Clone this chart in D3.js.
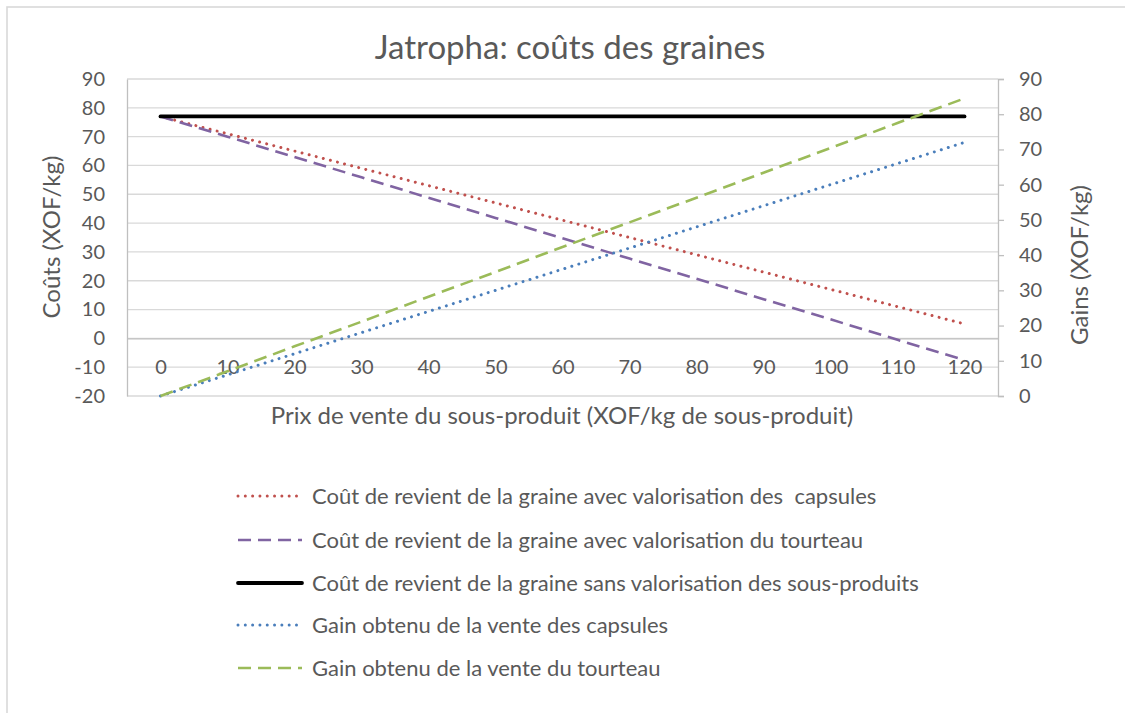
<!DOCTYPE html>
<html>
<head>
<meta charset="utf-8">
<script src="https://cdn.jsdelivr.net/npm/d3@7"></script>
<style>
  html, body { margin: 0; padding: 0; background: #fff; }
  svg text { font-family: Lato, "Open Sans", sans-serif; fill: #595959; }
</style>
</head>
<body>
<svg id="chart" width="1125" height="713"></svg>
<script>
// Sale price of the by-product (XOF/kg of by-product)
const prices = [0, 10, 20, 30, 40, 50, 60, 70, 80, 90, 100, 110, 120];

// Costs (left axis, XOF/kg)
const costCapsules = [77, 71, 65, 59, 53, 47, 41, 35, 29, 23, 17, 11, 5];
const costTourteau = [77, 70.0, 62.9, 55.9, 48.8, 41.8, 34.7, 27.7, 20.7, 13.6, 6.6, -0.5, -7.5];
const costNone = [77, 77, 77, 77, 77, 77, 77, 77, 77, 77, 77, 77, 77];

// Gains (right axis, XOF/kg)
const gainCapsules = [0, 6, 12, 18, 24, 30, 36, 42, 48, 54, 60, 66, 72];
const gainTourteau = [0, 7.0, 14.1, 21.1, 28.2, 35.2, 42.3, 49.3, 56.3, 63.4, 70.4, 77.5, 84.5];

const leftTicks = [-20, -10, 0, 10, 20, 30, 40, 50, 60, 70, 80, 90];
const rightTicks = [0, 10, 20, 30, 40, 50, 60, 70, 80, 90];

const titleText = "Jatropha: coûts des graines";
const xTitle = "Prix de vente du sous-produit (XOF/kg de sous-produit)";
const yLeftTitle = "Coûts (XOF/kg)";
const yRightTitle = "Gains (XOF/kg)";

const series = [
  { name: "Coût de revient de la graine avec valorisation des  capsules", values: costCapsules, axis: "left", color: "#c0504d", style: "dot" },
  { name: "Coût de revient de la graine avec valorisation du tourteau", values: costTourteau, axis: "left", color: "#8064a2", style: "dash" },
  { name: "Coût de revient de la graine sans valorisation des sous-produits", values: costNone, axis: "left", color: "#000000", style: "solid" },
  { name: "Gain obtenu de la vente des capsules", values: gainCapsules, axis: "right", color: "#4a7ebb", style: "dot" },
  { name: "Gain obtenu de la vente du tourteau", values: gainTourteau, axis: "right", color: "#9bbb59", style: "dash" }
];

const svg = d3.select("#chart");
const plot = { left: 127, right: 998, top: 79, bottom: 396 };

const x = d3.scalePoint().domain(prices).range([plot.left, plot.right]).padding(0.5);
const yL = d3.scaleLinear().domain([-20, 90]).range([plot.bottom, plot.top]);
const yR = d3.scaleLinear().domain([0, 90]).range([plot.bottom, plot.top]);
const fmt = d => String(d);

// Outer chart border
svg.append("rect")
  .attr("x", 7).attr("y", 7).attr("width", 1125).attr("height", 713)
  .attr("fill", "none").attr("stroke", "#d9d9d9").attr("stroke-width", 1.6);

// Title
svg.append("text")
  .attr("x", 570).attr("y", 59)
  .attr("text-anchor", "middle")
  .style("font-size", "33px")
  .text(titleText);

// Horizontal gridlines
svg.append("g").selectAll("line")
  .data(leftTicks)
  .join("line")
  .attr("x1", plot.left).attr("x2", plot.right)
  .attr("y1", d => yL(d)).attr("y2", d => yL(d))
  .attr("stroke", "#d9d9d9").attr("stroke-width", 1.3);

function styleAxis(g) {
  g.select(".domain").attr("stroke", "#bfbfbf").attr("stroke-width", 1.3);
  g.selectAll(".tick line").attr("stroke", "#bfbfbf").attr("stroke-width", 1.3);
  g.selectAll("text").style("font-size", "20px").attr("fill", "#595959");
  g.attr("font-family", null).attr("font-size", null);
}

// Left axis (costs)
const gL = svg.append("g").attr("transform", `translate(${plot.left},0)`)
  .call(d3.axisLeft(yL).tickValues(leftTicks).tickFormat(fmt).tickSize(0).tickPadding(22));
styleAxis(gL);

// Right axis (gains)
const gR = svg.append("g").attr("transform", `translate(${plot.right},0)`)
  .call(d3.axisRight(yR).tickValues(rightTicks).tickFormat(fmt).tickSize(6).tickPadding(15));
styleAxis(gR);

// Category axis crossing at zero on the cost axis
const gX = svg.append("g").attr("transform", `translate(0,${yL(0)})`)
  .call(d3.axisBottom(x).tickFormat(fmt).tickSize(0).tickPadding(21).tickSizeOuter(0));
styleAxis(gX);

// Axis titles
svg.append("text")
  .attr("x", 562).attr("y", 424)
  .attr("text-anchor", "middle")
  .style("font-size", "24px")
  .text(xTitle);

svg.append("text")
  .attr("transform", "translate(60,237) rotate(-90)")
  .attr("text-anchor", "middle")
  .style("font-size", "24px")
  .text(yLeftTitle);

svg.append("text")
  .attr("transform", "translate(1088,265) rotate(-90)")
  .attr("text-anchor", "middle")
  .style("font-size", "24px")
  .text(yRightTitle);

function applyStyle(sel, s) {
  sel.attr("stroke", s.color).attr("fill", "none");
  if (s.style === "dot") {
    sel.attr("stroke-width", 3).attr("stroke-linecap", "round").attr("stroke-dasharray", "0.01 7.3");
  } else if (s.style === "dash") {
    sel.attr("stroke-width", 2.6).attr("stroke-linecap", "butt").attr("stroke-dasharray", "13 7");
  } else {
    sel.attr("stroke-width", 3.8).attr("stroke-linecap", "round");
  }
  return sel;
}

// Series lines
const line = d3.line();
series.forEach(s => {
  const y = s.axis === "left" ? yL : yR;
  const pts = prices.map((p, i) => [x(p), y(s.values[i])]);
  applyStyle(svg.append("path").attr("d", line(pts)), s);
});

// Legend
const legendRows = [496, 540, 583, 625, 668];
const legend = svg.append("g");
series.forEach((s, i) => {
  const g = legend.append("g").attr("transform", `translate(0,${legendRows[i]})`);
  applyStyle(g.append("line").attr("x1", 238).attr("x2", 302).attr("y1", 0).attr("y2", 0), s);
  g.append("text")
    .attr("x", 312).attr("y", 0).attr("dy", "0.35em")
    .style("font-size", "22px")
    .style("white-space", "pre")
    .text(s.name);
});
</script>
</body>
</html>
